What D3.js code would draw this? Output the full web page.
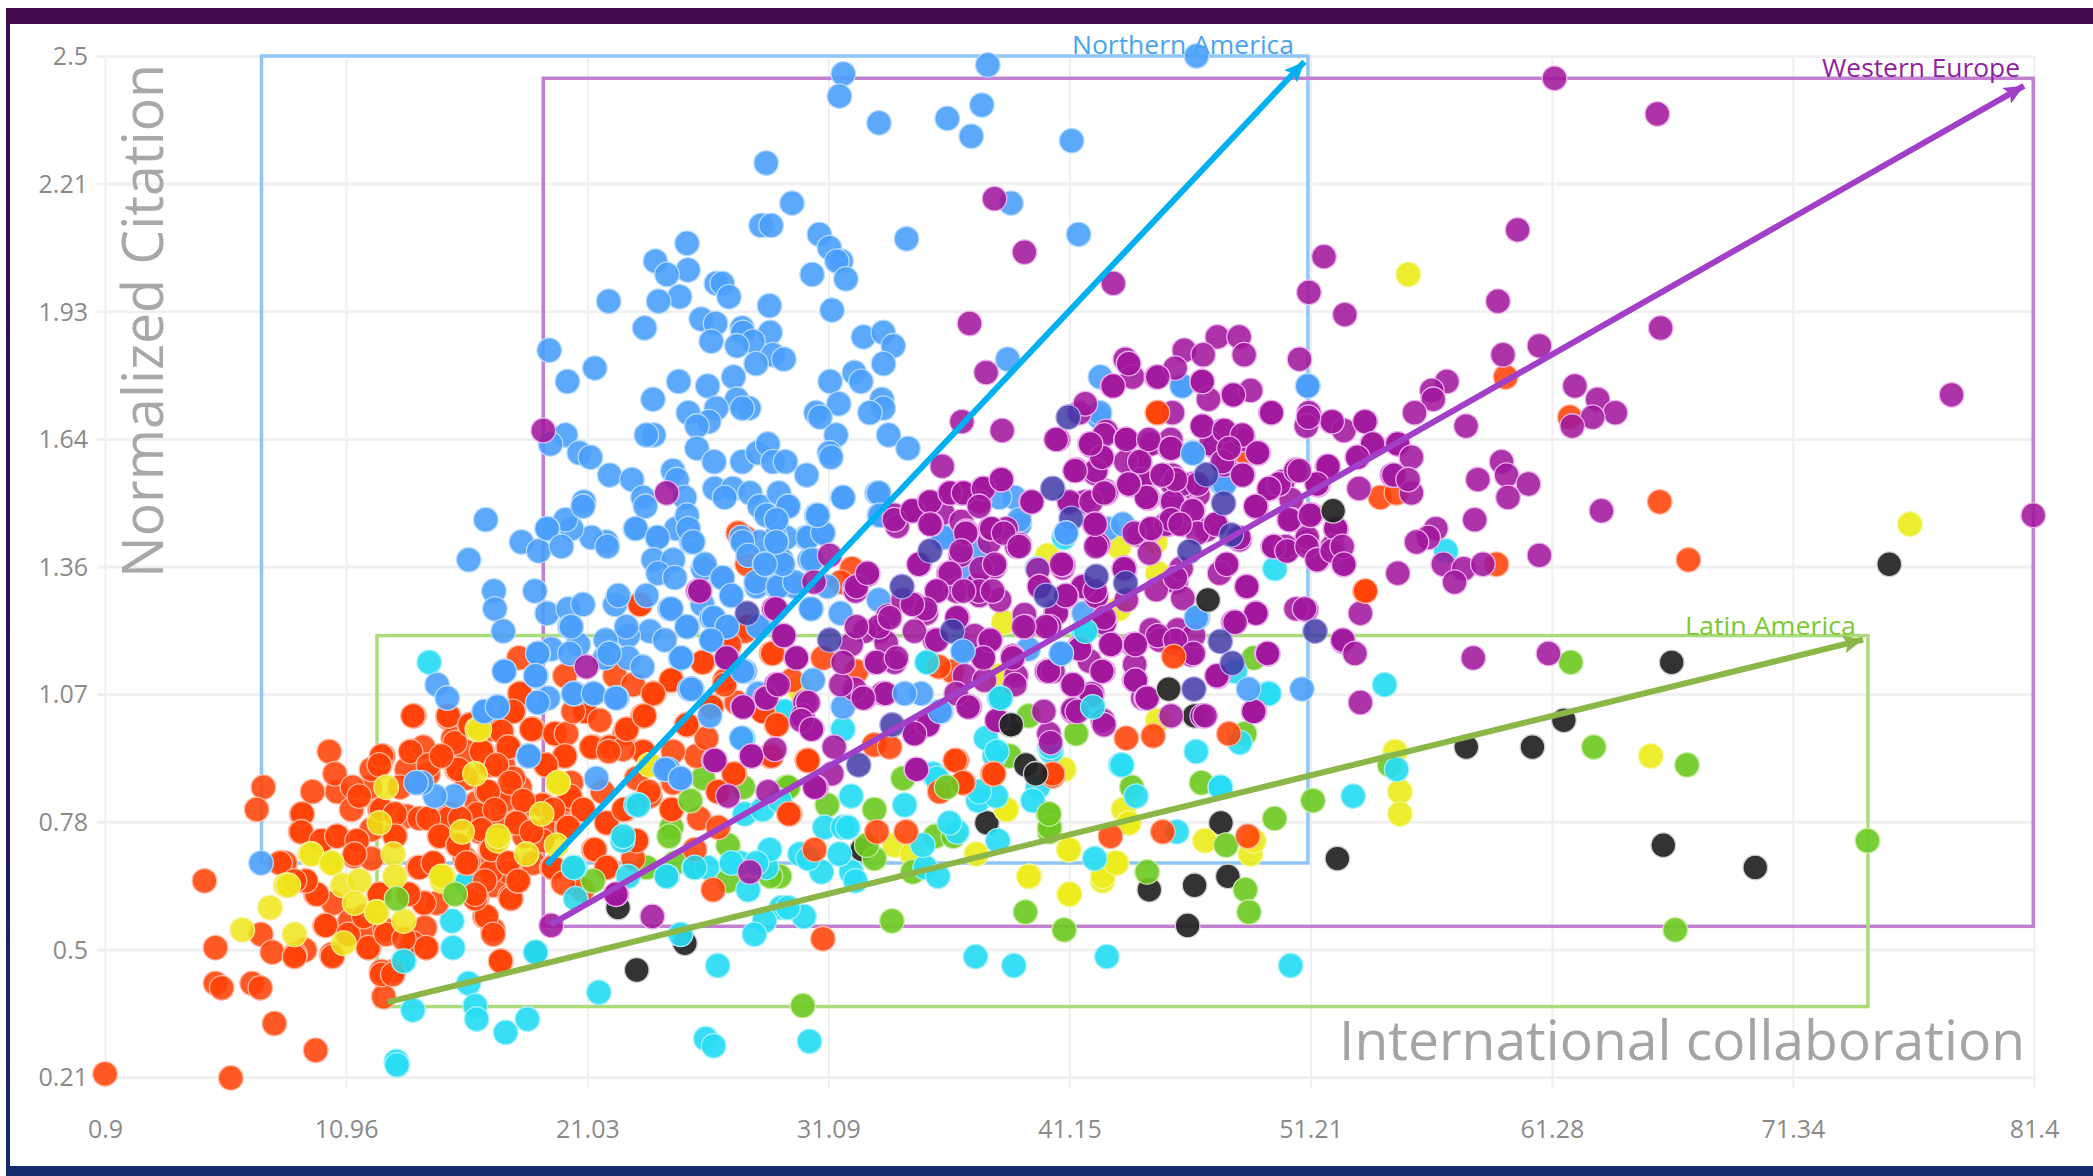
<!DOCTYPE html>
<html><head><meta charset="utf-8">
<script src="https://cdn.jsdelivr.net/npm/d3@7/dist/d3.min.js"></script>
<style>html,body{margin:0;padding:0;background:#fff;overflow:hidden}svg{display:block}text{font-family:"Open Sans",sans-serif}</style>
</head><body><svg id="c" width="2093" height="1176"></svg>
<script>
const xTicks=[0.9,10.96,21.03,31.09,41.15,51.21,61.28,71.34,81.4];
const yTicks=[0.21,0.496,0.7825,1.069,1.355,1.641,1.9275,2.214,2.5];
const yLabels=["0.21","0.5","0.78","1.07","1.36","1.64","1.93","2.21","2.5"];
const black=[[66.28,1.14],[61.78,1.01],[57.71,.95],[60.47,.95],[65.93,.73],[69.77,.68],[52.33,.70],[47.47,.78],[47.76,.66],[46.37,.64],[44.48,.63],[46.08,.55],[46.37,1.02],[38.67,1.0],[75.36,1.36],[37.7,.78],[32.49,.72],[22.31,.59],[23.09,.45],[25.1,.51]];
const yellow=[[65.41,.93],[54.94,.85],[54.94,.80],[54.74,.94],[46.8,.74],[48.7,.71],[48.84,.74],[41.14,.72],[43.11,.69],[42.53,.65],[39.48,.66],[41.14,.62],[43.4,.81],[43.61,.78],[38.52,.81],[55.29,2.01],[76.22,1.45],[38.51,.81],[37.26,.71],[39.45,.66],[41.15,.62],[41.12,.72],[42.54,.66],[43.1,.69],[43.63,.78],[33.85,.73],[34.57,.71],[43.21,1.40],[44.83,1.34],[44.73,1.41],[43.21,1.26],[40.23,1.38],[38.4,1.23],[38.22,1.11],[44.83,1.01],[40.92,.90],[29.84,1.08],[29.9,1.08]];
const green=[[62.07,1.14],[63.03,.95],[66.92,.91],[74.45,.74],[66.43,.54],[51.31,.83],[49.71,.79],[48.49,.63],[48.64,.58],[44.39,.67],[40.93,.54],[39.31,.58],[47.68,.73],[46.66,.87],[48.46,.98],[43.75,.86],[40.26,.80],[40.32,.76],[41.43,.98],[48.84,1.15],[54.51,.91],[30.02,.37],[33.74,.56],[33.01,.81],[31.04,.82],[34.2,.88],[36,.86],[35.55,.75],[33.01,.70],[32.69,.73],[34.61,.67],[29.33,.86],[38.65,.93],[40.32,.77],[29.05,.66],[24.54,.77],[24.44,.75],[26.9,.73],[24.68,.69],[26.9,.65],[28.67,.66],[29.41,.86],[23.5,.68],[25.86,.88],[27.53,.86],[36.3,.75]];
const cyan=[[43.28,.91],[43.93,.84],[47.44,.86],[45.63,.76],[42.2,.70],[42.71,.48],[38.83,.46],[37.23,.48],[30.3,.29],[30.07,.57],[29.12,.59],[35.13,.68],[35.66,.66],[32.04,.67],[32.22,.65],[31.55,.71],[30.27,.70],[30.93,.77],[31.69,.77],[32.04,.84],[34.27,.82],[35.45,.89],[37.33,.83],[38.09,.84],[36.46,.76],[36.14,.78],[38.16,.74],[35.03,.73],[38.02,.93],[39.83,.86],[39.62,.83],[40.38,.94],[46.44,.94],[52.99,.84],[54.3,1.09],[54.8,.90],[50.38,.46],[49.42,1.07],[48.26,.96],[42.15,1.04],[40.32,.95],[47.45,.86],[41.72,1.21],[48.06,1.12],[56.86,1.39],[49.72,1.35],[49.48,1.07],[35.24,1.14],[42.13,1.04],[40.36,.95],[38.22,1.06],[31.7,.99],[37.66,.97],[41.75,1.21],[39.8,1.35],[40.92,1.42],[43.34,.91],[38.12,.94],[37.38,.85],[35.61,.88],[29.19,1.03],[14.43,1.14],[15.38,.56],[15.42,.50],[18.87,.49],[16.07,.42],[13.75,.36],[16.35,.37],[16.41,.34],[17.62,.31],[18.53,.34],[21.51,.40],[13.06,.245],[13.09,.237],[13.37,.47],[16,.645],[24.92,.53],[24.36,.66],[25.48,.68],[25.97,.296],[26.3,.28],[26.47,.46],[28.42,.56],[28,.53],[29.4,.59],[31.9,.77],[30.8,.67],[29.9,.71],[26.03,.68],[28.5,.68],[27.4,.69],[27.6,.80],[28.34,.81],[29.06,.83],[30.24,.70],[28.64,.72],[28.09,.69],[27.04,.69],[27.74,.63],[27.53,.97],[29.27,1.03],[15.99,.645]];
const orange=[[.9,.217],[6.15,.208],[9.69,.27],[7.97,.33],[5.51,.42],[5.77,.41],[7.04,.42],[7.38,.41],[5.51,.50],[5.05,.65],[7.51,.86],[7.23,.81],[8.2,.69],[10.26,.94],[10.49,.89],[9.56,.85],[9.13,.80],[9.09,.76],[7.41,.53],[7.88,.49],[8.81,.48],[10.39,.48],[11.88,.50],[12.53,.39],[12.44,.44],[12.91,.44],[13.75,.51],[14.3,.50],[17.41,.47],[16.82,.57],[17.1,.53],[17.84,.61],[18.12,.65],[16.35,.61],[14.21,.60],[12.35,.62],[13.56,.62],[9.74,.62],[9.28,.65],[10.11,.55],[11.05,.53],[11.7,.57],[12.63,.53],[13.37,.52],[13.75,1.02],[15.24,1.02],[16.11,1.0],
[12.44,.93],[13.65,.94],[14.96,.93],[15.51,.96],[16.63,.94],[17.75,.95],[17.38,.99],[18.77,.99],[19.7,.98],[18.21,1.07],[17.94,1.03],[20.91,1.03],[23.34,1.02],[24.55,1.10],[23.8,1.07],[25.2,1.0],[22.59,.98],[21.29,.95],[21.94,.95],[23.34,.94],[20.08,.93],[19.33,.91],[11.23,.86],[12.35,.91],[14.4,.91],[15.61,.90],[17,.91],[17.94,.88],[15.98,.88],[11.51,.84],[20.36,.87],[12.44,.81],[13,.80],[14.02,.79],[15.24,.79],[16.44,.80],[16.82,.85],[17.56,.83],[18.12,.78],[19.15,.82],[20.36,.83],[20.82,.81],[21.66,.85],[22.59,.81],[21.85,.78],[24.55,.81],[9.93,.74],[10.58,.75],[11.42,.74],[13,.75],[14.86,.75],[15.61,.73],[17,.72],[18.4,.75],[19.15,.74],[20.17,.77],[21.29,.72],[23.06,.74],[16.07,.69],[14.58,.69],[14.02,.68],[11.32,.71],[17.75,.67],[19.61,.68],[21.85,.68],[20.82,.63],[8.81,.65],[17,.67],
[18.17,1.15],[18.21,1.07],[17.93,1.03],[15.22,1.02],[16.13,1.0],[17.45,.985],[18.7,.99],[19.67,.98],[20.16,.98],[21.2,.95],[21.97,.95],[22.66,.99],[23.36,1.02],[20.92,1.03],[20.44,1.03],[21.55,1.01],[23.78,1.07],[24.54,1.10],[23.22,1.27],[25.86,1.14],[20.09,1.11],[22.18,1.11],[22.94,1.09],[26.21,1.04],[25.17,1.0],[28.71,1.16],[26.77,1.10],[27.25,1.05],[28.37,1.03],[28.92,1.0],[26.9,1.17],[27.74,1.22],[27.6,1.42],[30.2,.92],[29.48,.80],[28.64,.93],[25.58,.93],[27.18,.89],[26.49,.85],[23.36,.94],[22.52,.945],[20.09,.93],[19.3,.91],[17.73,.95],[16.61,.94],[15.64,.90],[14.94,.93],[17.24,.91],[17.8,.87],[16.89,.85],[18.35,.83],[20.3,.84],[20.85,.81],[19.6,.81],[17.17,.81],[15.71,.79],[14.39,.79],[18.07,.78],[16.61,.765],[18.7,.76],[20.23,.77],[14.87,.75],[15.64,.73],[17.03,.72],[15.99,.69],[14.6,.69],[17.73,.69],[19.6,.68],[18.14,.65],[16.75,.65],[16.34,.62],[21.83,.78],[22.55,.81],[21.34,.72],[21.83,.68],[22.94,.70],[23.08,.74],[24.54,.81],[25.69,.79],[26.49,.77],[25.51,.72],[23.64,.84],[23.08,.88],[24.61,.87],[26.28,.63],[20.02,.645],[24.61,.94],[26,.97],
[59.35,1.78],[62.03,1.69],[65.78,1.50],[66.98,1.37],[53.48,1.30],[54.12,1.51],[54.79,1.52],[58.97,1.36],[44.82,1.70],[48.5,1.61],[32.07,1.35],[31.61,1.32],[27.7,1.36],[27.32,1.43],[23.23,1.27],[27.6,1.21],[26.95,1.18],[25.83,1.14],[24.53,1.10],[23.78,1.07],[28.76,1.16],[30.86,1.15],[28.35,1.03],[28.94,1.0],[26.76,1.09],[26.2,1.04],[25.18,1.0],[30.21,.92],[28.72,.93],[27.14,.89],[26.48,.85],[23.6,.85],[22.67,.99],[21.92,.94],[23.41,1.02],[32.26,1.12],[36.26,1.12],[35.7,1.13],[33,.955],[33.65,.95],[36.45,.92],[36.73,.87],[37.94,.89],[43.52,.97],[44.64,.975],[47.8,.98],[40.45,.885],[29.56,1.10],[30.23,.92],[29.44,.80],[37.99,.89],[36.38,.92],[36.7,.87],[40.45,.89],[33.11,.76],[34.33,.76],[30.51,.72],[30.86,.52],[42.86,.75],[45.04,.76],[48.59,.75],[35.73,.85]];
const orangeDense=[[13.8,1.02],[10.59,.85],[11.5,.84],[11.19,.81],[11.96,.86],[12.37,.91],[12.51,.93],[12.02,.90],[13.69,.94],[13.49,.90],[13.21,.86],[14.18,.95],[14.39,.89],[14.97,.93],[15.57,.90],[15.99,.94],[16.64,.94],[16.89,.91],[17.52,.91],[17.73,.95],[16.96,.99],[16.13,1.0],[15.22,1.015],[15.43,.97],[17.94,1.03],[18.73,.99],[19.67,.98],[20.09,.93],[19.28,.91],[16.82,.85],[16.41,.825],[17.1,.81],[16.54,.80],[17.87,.85],[18.21,.86],[19.19,.82],[18.42,.82],[20.23,.83],[19.88,.79],[19.4,.765],[18.07,.78],[17.45,.77],[15.71,.79],[15.29,.80],[14.39,.79],[13.03,.80],[12.37,.81],[13.49,.795],[14.88,.755],[16.54,.76],[16.99,.72],[18.63,.76],[15.61,.73],[14.6,.69],[15.92,.70],[16.82,.68],[17.66,.69],[18.77,.69],[19.54,.68],[18.14,.65],[17.1,.64],[17.8,.615],[13,.755],[12.02,.765],[11.4,.74],[10.59,.75],[9.94,.74],[11.29,.705],[12.02,.70],[13.97,.68],[12.34,.62],[13.6,.62],[14.25,.60],[14.74,.60],[9.7,.62],[9.28,.65],[10.43,.60],[10.08,.55],[11.12,.56],[11.68,.54],[12.58,.54],[11.91,.50],[13.72,.51],[14.32,.50],[14.25,.545],[9.24,.495],[8.83,.485],[10.36,.485],[12.93,.447],[12.44,.447],[16.41,.61],[16.75,.57],[17.1,.54],[17.42,.47],[9.1,.80],[9.06,.76],[8.41,.69]];
const yellowFront=[[6.63,.54],[7.79,.59],[8.44,.64],[8.81,.53],[10.86,.51],[9.46,.71],[10.34,.69],[10.82,.64],[11.51,.65],[11.32,.60],[12.26,.58],[13.37,.56],[12.93,.71],[13,.66],[14.96,.65],[15.01,.66],[15.8,.76],[16.44,.99],[17.28,.74],[18.49,.71],[19.12,.80],[19.8,.87],[19.81,.87],[19.74,.73],[23.61,.91],[16.34,.89],[12.63,.86],[12.35,.78],[16.52,.99],[17.31,.75],[14.94,.66],[23.64,.91],[8.55,.64],[9.52,.71],[10.36,.69],[12.23,.58]];
const greenFront=[[25.33,.83],[15.51,.62],[21.27,.65],[13.07,.61],[36.02,.86],[40.3,.80],[39.45,1.02]];
const cyanFront=[[20.51,.68],[22.73,.66],[20.45,.68],[20.54,.61],[22.5,.74],[23.06,.82],[23.15,.82],[22.52,.75],[25.51,.68],[24.33,.66],[18.87,.49],[13.37,.47]];
const blue=[[31.71,2.46],[31.55,2.41],[33.2,2.35],[37.74,2.48],[37.49,2.39],[36.05,2.36],[37.05,2.32],[28.49,2.26],[29.57,2.17],[28.28,2.12],[28.7,2.12],[30.71,2.10],[31.13,2.07],[31.62,2.04],[31.44,2.04],[30.41,2.01],[31.82,2.0],[34.35,2.09],[25.19,2.08],[23.87,2.04],[25.23,2.02],[24.35,2.01],[26.41,1.99],[26.66,1.99],[26.94,1.96],[24.88,1.96],[24,1.95],[21.92,1.95],[28.63,1.94],[31.24,1.93],[23.42,1.89],[25.78,1.91],[26.38,1.90],[26.2,1.86],[27.49,1.89],[27.52,1.88],[28.66,1.88],[27.94,1.86],[27.27,1.85],[19.44,1.84],[28.77,1.83],[29.23,1.82],[28.07,1.81],[32.55,1.87],[33.38,1.88],[33.8,1.85],[33.39,1.81],[32.17,1.79],[32.45,1.77],[31.16,1.77],[21.34,1.80],[20.2,1.77],[24.84,1.77],[27.13,1.78],[26.05,1.76],[27.27,1.73],[27.77,1.71],[27.49,1.71],[26.41,1.71],[25.24,1.70],[23.77,1.73],[26.1,1.68],[25.6,1.67],[31.52,1.72],[30.57,1.70],[30.74,1.69],[33.32,1.73],[33.38,1.71],[32.82,1.70],[31.41,1.65],[23.8,1.65],[23.49,1.65],[33.6,1.65],[34.41,1.62],[31.13,1.61],[31.2,1.60],[20.12,1.65],[19.49,1.63],[20.69,1.61],[21.16,1.60],[21.96,1.56],[22.89,1.55],[25.6,1.62],[26.32,1.59],[27.49,1.59],[28.14,1.61],[28.56,1.63],[28.77,1.59],[29.3,1.59],[30.18,1.56],[24.6,1.57],[24.77,1.55],[25.09,1.51],[23.35,1.51],[23.45,1.49],[20.88,1.50],[26.34,1.53],[27.1,1.53],[26.76,1.51],[27.82,1.52],[28.21,1.49],[29.02,1.52],[29.42,1.49],[28.91,1.46],[30.64,1.47],[31.69,1.51],[33.12,1.52],[33.21,1.47],[30.88,1.43],[30.16,1.42],[29.32,1.42],[28.88,1.42],[28.21,1.41],[27.45,1.42],[25.23,1.44],[24.74,1.44],[25.37,1.41],[25.19,1.47],[23.94,1.42],[23.03,1.44],[21.82,1.41],[21.2,1.42],[20.37,1.44],[20.12,1.46],[19.37,1.44],[18.28,1.41],
[38.71,2.17],[41.24,2.31],[41.53,2.10],[46.45,2.50],[38.57,1.82],[42.44,1.78],[45.84,1.76],[51.09,1.76],[42.39,1.69],[46.28,1.61],[47.53,1.54],[38.85,1.51],[38.23,1.51],[39.06,1.45],[41,1.43],[42.74,1.44],[43.37,1.45],[35.87,1.42],
[16.79,1.46],[19,1.39],[19.35,1.44],[19.95,1.40],[20.85,1.49],[21.86,1.40],[23.05,1.44],[23.96,1.42],[23.78,1.37],[24.61,1.37],[25.24,1.44],[25.44,1.41],[16.08,1.37],[17.13,1.30],[17.17,1.26],[17.52,1.21],[18.84,1.30],[19.35,1.25],[20.23,1.26],[20.85,1.27],[20.3,1.22],[20.65,1.18],[19.53,1.17],[20.3,1.16],[18.98,1.16],[17.56,1.12],[18.88,1.11],[14.76,1.09],[15.18,1.06],[16.75,1.03],[17.27,1.04],[18.98,1.05],[19.39,1.06],[20.51,1.07],[21.27,1.07],[22.27,1.06],[22.18,1.27],[22.32,1.29],[24.47,1.26],[23.5,1.29],[23.98,1.34],[24.68,1.33],[25.86,1.35],[26.63,1.33],[27.04,1.29],[25.83,1.27],[26.21,1.24],[26.84,1.22],[25.21,1.22],[23.64,1.21],[24.26,1.19],[22.73,1.20],[22.66,1.22],[21.79,1.19],[21.93,1.16],[21.76,1.15],[22.73,1.15],[23.33,1.13],[24.96,1.15],[26.21,1.19],[27.5,1.41],[27.74,1.38],[28.43,1.36],[28.92,1.41],[29.13,1.37],[28.09,1.31],[28.92,1.31],[29.69,1.31],[28.23,1.22],[30.31,1.37],[30.38,1.26],[28.5,1.47],[29.41,1.49],[28.92,1.46],[30.24,1.42],[30.59,1.47],[27.6,1.12],[28.16,1.07],[30.45,1.10],[25.4,1.08],[21.41,.88],[18.56,.93],[15.47,.84],[14.67,.84],[14.11,.87],[24.4,.90],[24.89,.88],[26.14,1.02],[27.46,.97],
[7.41,.69],[13.88,.87],[18.59,.93],[17.56,1.12],[18.96,1.16],[18.87,1.11],[18.96,1.05],[20.36,1.22],[20.45,1.07],[21.29,1.07],[22.22,1.06],[21.94,1.16],[16.72,1.03],[17.28,1.04],[24.92,1.15],[25.29,1.08],[24.27,.90],[24.92,.88],
[25.93,1.36],[26.67,1.33],[27.04,1.29],[28.07,1.32],[29,1.31],[29.69,1.32],[31.05,1.31],[30.36,1.26],[31.6,1.25],[33.19,1.28],[30.4,1.37],[29.19,1.36],[28.44,1.36],[28.91,1.41],[30.86,1.43],[24.53,1.26],[25.18,1.22],[26.3,1.24],[26.86,1.22],[26.2,1.19],[24.94,1.15],[27.51,1.12],[28.16,1.22],[25.37,1.08],[31.7,1.04],[35.8,1.03],[36.73,1.17],[39.43,1.17],[41.75,1.25],[46.5,1.24],[42.41,1.70],[45.85,1.76],[47.62,1.54],[37.38,1.39],[35.89,1.42],[37,1.34],[39.05,1.46],[33.19,1.52],[31.7,1.51],[30.64,1.47],[33.24,1.47]];
const purple=[[38.02,2.18],[39.27,2.06],[42.98,1.99],[36.98,1.90],[37.67,1.79],[51.77,2.05],[51.14,1.97],[52.64,1.92],[50.75,1.82],[47.32,1.87],[48.23,1.87],[48.44,1.83],[45.94,1.84],[46.73,1.83],[43.48,1.82],[43.62,1.81],[43.78,1.78],[44.78,1.78],[45.56,1.80],[42.95,1.76],[46.67,1.77],[47.95,1.74],[48.71,1.75],[46.95,1.73],[45.45,1.70],[49.55,1.70],[51.14,1.70],[51.03,1.67],[52.09,1.68],[52.6,1.66],[53.5,1.68],[46.7,1.67],[47.53,1.66],[48.37,1.64],[49.03,1.61],[47.78,1.62],[47.05,1.63],[47.53,1.59],[36.66,1.68],[38.34,1.66],[35.84,1.58],[40.59,1.64],[41.56,1.70],[41.81,1.72],[42.6,1.65],[43.5,1.64],[44.55,1.63],[45.38,1.64],[45.34,1.62],[42,1.63],[42.49,1.60],[41.42,1.57],[42.25,1.57],[44,1.59],[43.5,1.59],[38.3,1.55],[37.53,1.53],[36.7,1.52],[36.14,1.52],[35.31,1.50],[34.62,1.48],[37.39,1.50],[39.55,1.50],[41.14,1.50],[42.67,1.52],[42.05,1.50],[42.19,1.45],[44.13,1.55],[43.64,1.54],[45.03,1.56],[45.45,1.54],[46.28,1.54],[45.87,1.54],[44.41,1.51],[45.45,1.50],[46.28,1.48],[47.25,1.45],[48.37,1.56],[49.48,1.53],[49.89,1.54],[50.59,1.57],[51.91,1.58],[51.49,1.54],[53.16,1.60],[53.78,1.63],[54.82,1.63],[53.23,1.53],[54.62,1.56],[48.92,1.49],[50.38,1.46],[51.17,1.47],[52.25,1.44],[49.64,1.40],[50.17,1.40],[51.07,1.42],[52.12,1.40],[35.38,1.45],[36.84,1.43],[37.84,1.44],[38.95,1.40],[44.55,1.44],[45.17,1.45],[43.85,1.43],[46.49,1.43],[48.22,1.42],[42.25,1.40],
[24.34,1.52],[25.65,1.30],[28.81,1.26],[31.14,1.38],[30.49,1.32],[32.26,1.31],[32.72,1.34],[29.22,1.20],[29.74,1.15],[26.86,1.15],[28.44,1.06],[28.91,1.09],[27.51,1.04],[27.88,.93],[26.3,.92],[33.84,1.46],[34.59,1.48],[35.33,1.50],[35.33,1.45],[36.17,1.52],[36.73,1.52],[37.56,1.53],[38.31,1.55],[37.38,1.49],[36.82,1.43],[37.9,1.44],[38.4,1.43],[39.05,1.40],[39.58,1.50],[34.86,1.36],[36.63,1.39],[36.17,1.34],[38.03,1.36],[37.38,1.30],[35.61,1.30],[36.73,1.30],[37.94,1.30],[39.89,1.31],[35.14,1.26],[34.59,1.27],[36.45,1.24],[35.61,1.19],[37.84,1.19],[38.78,1.15],[40.17,1.22],[39.24,1.22],[41,1.29],[40.82,1.36],[42.22,1.45],[41.38,1.57],[42.5,1.60],[42.03,1.63],[42.97,1.76],[43.62,1.81],[44.83,1.78],[46.69,1.77],[47.99,1.74],[49.58,1.70],[46.69,1.67],[47.62,1.66],[48.36,1.65],[49,1.61],[47.81,1.62],[46.5,1.54],[45.57,1.55],[45.01,1.56],[44.08,1.59],[43.52,1.64],[44.46,1.64],[45.39,1.62],[42.59,1.52],[44.36,1.51],[43.62,1.54],[45.39,1.46],[44.55,1.44],[45.76,1.45],[47.25,1.45],[48.37,1.56],[49.48,1.53],[48.92,1.49],[50.32,1.46],[49.67,1.40],[47.71,1.36],[48.55,1.31],[45.57,1.33],[43.43,1.35],[42.22,1.30],[43.52,1.28],[42.59,1.24],[47.99,1.23],[48.92,1.25],[44.83,1.20],[45.57,1.19],[46.32,1.16],[47.34,1.11],[49.39,1.16],[43.9,1.18],[42.87,1.18],[41.57,1.17],[40.27,1.12],[41.29,1.09],[42.5,1.12],[43.9,1.10],[44.36,1.06],[42.59,1.00],[41.48,1.03],[45.39,1.02],[46.69,1.02],[48.83,1.03],[38.87,1.09],[37.56,1.15],[36.92,1.04],[35.24,1.00],[34.68,.98],[33.47,1.07],[32.54,1.06],[31.61,1.09],[31.7,1.14],[33.1,1.14],[33.93,1.15],[30.4,.99],[30.11,1.05],[30.02,1.02],[31.33,.95],[33.19,1.22],[32.26,1.22],[33.65,1.24],[34.77,.90],[31.23,.89],[30.58,.86],[40.36,.96],[40.08,1.03],[38.12,1.01],[50.6,1.26],[50.23,1.39],
[61.39,2.45],[65.68,2.37],[59.85,2.11],[59.03,1.95],[65.82,1.89],[60.76,1.85],[59.24,1.83],[77.96,1.74],[81.37,1.47],[62.24,1.76],[63.19,1.73],[63.93,1.70],[62.98,1.69],[62.13,1.67],[56.9,1.77],[56.27,1.75],[56.33,1.73],[55.55,1.70],[57.7,1.67],[53.48,1.68],[52.11,1.68],[51.12,1.69],[53.8,1.63],[54.85,1.63],[55.42,1.60],[53.17,1.60],[51.94,1.58],[51.48,1.54],[54.69,1.56],[55.42,1.52],[55.28,1.55],[50.74,1.57],[59.18,1.59],[59.39,1.56],[60.3,1.54],[58.19,1.55],[59.45,1.51],[63.35,1.48],[58.06,1.46],[52.26,1.44],[51.2,1.47],[56.44,1.44],[56.12,1.42],[55.63,1.41],[60.76,1.38],[56.75,1.36],[57.6,1.35],[58.4,1.36],[57.22,1.32],[54.85,1.34],[51.06,1.40],[51.48,1.37],[52.11,1.39],[52.53,1.40],[52.6,1.36],
[53.29,1.25],[50.96,1.26],[48.93,1.25],[48.06,1.23],[52.56,1.19],[53.06,1.16],[49.42,1.16],[58,1.15],[61.14,1.16],[53.29,1.05],[48.84,1.03],[47.3,1.11],[46.81,1.02],[44.39,1.06],
[28.5,1.06],[28.99,1.09],[29.23,1.2],[29.76,1.15],[28.89,1.26],[26.84,1.15],[25.72,1.30],[20.99,1.13],[27.53,1.04],[30.24,1.05],[29.96,1.01],[30.38,.99],[27.88,.93],[28.85,.945],[26.35,.92],[26.9,.84],[28.57,.85],[27.81,.67],[30.52,.86],[22.25,.62],[22.22,.62],[23.74,.57],[19.52,.55],[19.19,1.66]];
const purpleDense=[[33.85,1.47],[33.96,1.445],[34.61,1.48],[35.31,1.50],[35.38,1.45],[35.86,1.475],[36.14,1.52],[36.63,1.52],[37.53,1.53],[37.39,1.50],[36.63,1.456],[36.84,1.434],[37.88,1.44],[37.81,1.41],[38.51,1.44],[39.06,1.404],[39.55,1.50],[36.6,1.38],[34.89,1.36],[36.11,1.34],[35.61,1.30],[36.42,1.30],[37.39,1.29],[37.32,1.315],[38.02,1.354],[37.46,1.35],[38.23,1.28],[32.73,1.337],[32.18,1.307],[34.68,1.27],[35.17,1.25],[33.57,1.244],[34.2,1.28],[36.49,1.24],[35.52,1.19],[34.68,1.21],[33.22,1.21],[32.6,1.21],[33.5,1.184],[32.04,1.18],[33.06,1.14],[33.85,1.14],[37.19,1.2],[37.81,1.187],[37.53,1.15],[38.78,1.154],[36.77,1.11],[39.27,1.247],[39.34,1.22],[40.18,1.22],[40.59,1.255],[40.87,1.352],[41.01,1.29],[39.9,1.31],[39.83,1.348],[41.71,1.31],[42.26,1.29],[41.77,1.50],[42.19,1.453],[42.68,1.524],[42.33,1.404],[43.44,1.352],[42.61,1.232],[41.57,1.176],[42.89,1.18],[43.79,1.18],[41.98,1.143],[42.54,1.12],[40.2,1.12],[41.29,1.09],[38.92,1.11],[37.6,1.10],[43.86,1.10],[44.21,1.06],[42.1,1.07],[41.29,1.03],[42.54,1.01],[36.98,1.04],[36.42,1.07],[35.24,1.0],[34.68,.98],[38.16,1.01],[40.29,.98],[32.22,1.30],[33.36,1.07],[32.6,1.06],[32.18,1.08],[34.75,.90],
[40.67,1.64],[42.68,1.658],[43.52,1.64],[42.06,1.626],[42.52,1.60],[41.43,1.572],[42.2,1.564],[44.08,1.588],[44.49,1.632],[45.35,1.62],[43.66,1.538],[44.21,1.55],[42.68,1.52],[44.42,1.508],[45.44,1.56],[45.81,1.538],[46.3,1.538],[46.51,1.516],[45.4,1.50],[46.3,1.482],[47.83,1.62],[47.2,1.624],[48.39,1.647],[49.01,1.609],[47.62,1.583],[48.39,1.561],[48.94,1.488],[49.5,1.53],[50.06,1.546],[50.61,1.572],[51.93,1.579],[51.52,1.538],[50.4,1.505],[50.36,1.46],[51.24,1.471],[49.71,1.40],[50.22,1.39],[51.03,1.411],[51.52,1.37],[52.14,1.393],[52.59,1.359],[52.28,1.437],[42.2,1.449],[41.15,1.497],[40.88,1.359],[42.34,1.404],[44.01,1.426],[44.56,1.437],[45.26,1.449],[45.88,1.449],[47.27,1.449],[46.86,1.437],[48.25,1.415],[44.49,1.385],[43.45,1.348],[42.27,1.288],[41.71,1.31],[41.02,1.288],[40.6,1.25],[40.32,1.22],[42.61,1.228],[45.6,1.32],[44.77,1.303],[45.88,1.284],[45.81,1.351],[47.69,1.359],[48.53,1.31],[47.41,1.34],[48.04,1.23],[48.94,1.25],[51.03,1.258],[52.56,1.187],[44.56,1.213],[44.91,1.19],[45.58,1.183],[45.67,1.213],[46.23,1.157],[46.33,1.2],[42.92,1.18],[43.87,1.18],[41.57,1.172],[42.55,1.12],[43.87,1.135],[43.91,1.10],[40.46,1.12],[41.27,1.09],[44.35,1.06],[42.06,1.064],[47.34,1.108],[49.43,1.159],[48.87,1.03],[41.29,1.034]];
const indigo=[[51.4,1.21],[47.44,1.187],[47.94,1.138],[46.34,1.08],[40.45,1.53],[35.33,1.39],[34.16,1.31],[31.14,1.19],[41.22,1.463],[42.27,1.333],[43.49,1.318],[46.86,1.561],[47.58,1.497],[46.16,1.389],[47.9,1.426],[32.35,.91],[33.75,1.0],[36.26,1.21],[41.1,1.69],[40.17,1.29],[27.7,1.25]];
const blueFront=[[41.01,1.43],[36.7,1.165],[34.96,1.07],[34.27,1.07],[35.75,1.03],[40.8,1.16],[46.3,1.609],[46.44,1.24],[48.62,1.08],[50.85,1.08],[40.81,1.16],[51.09,1.76]];
const cyanTop=[[35.2,1.14],[38.27,1.06],[42.12,1.04],[41.82,1.21]];
const blackTop=[[38.72,1.0],[39.33,.91],[39.74,.89],[46.93,1.28],[52.15,1.48],[45.29,1.08]];
const orangeTop=[[45.5,1.153],[44.82,1.70],[53.5,1.30]];
const boxes=[
 {name:"Northern America",x0:7.43,x1:51.1,y0:.69,y1:2.5,stroke:"#8fc6f6"},
 {name:"Western Europe",x0:19.19,x1:81.37,y0:.548,y1:2.45,stroke:"#c07fcf"},
 {name:"Latin America",x0:12.25,x1:74.47,y0:.368,y1:1.2,stroke:"#aadc7c"}];
const arrows=[
 {x0:19.34,y0:.686,x1:50.95,y1:2.487,color:"#00b0f0"},
 {x0:19.5,y0:.552,x1:80.98,y1:2.433,color:"#a23fc8"},
 {x0:12.7,y0:.378,x1:74.27,y1:1.191,color:"#8cb648"}];

const x=d3.scaleLinear().domain([0.9,81.4]).range([105,2034]);
const y=d3.scaleLinear().domain([0.21,2.5]).range([1077,56]);
const svg=d3.select("#c");
const defs=svg.append("defs");
const grad=defs.append("linearGradient").attr("id","side").attr("x1",0).attr("x2",0).attr("y1",0).attr("y2",1);
grad.append("stop").attr("offset",0).attr("stop-color","#42094f");
grad.append("stop").attr("offset",.5).attr("stop-color","#2a1064");
grad.append("stop").attr("offset",1).attr("stop-color","#12296a");
svg.append("rect").attr("width",2093).attr("height",1176).attr("fill","#fff");
svg.append("rect").attr("x",6).attr("y",8).attr("width",2087).attr("height",16).attr("fill","#42094f");
svg.append("rect").attr("x",6).attr("y",8).attr("width",4).attr("height",1168).attr("fill","url(#side)");
svg.append("rect").attr("x",6).attr("y",1166).attr("width",2087).attr("height",10).attr("fill","#12296a");

const gx=svg.append("g").attr("transform","translate(0,1077)")
 .call(d3.axisBottom(x).tickValues(xTicks).tickFormat(d=>d).tickSize(0));
gx.select(".domain").remove();
gx.selectAll("text").attr("y",52).attr("dy",".35em").attr("font-size",25).attr("fill","#8a8a8a").style("font-family",'"Open Sans",sans-serif');
gx.selectAll(".tick").append("line").attr("y1",12).attr("y2",-1021).attr("stroke","#efefef").attr("stroke-width",2);
const gy=svg.append("g").attr("transform","translate(105,0)")
 .call(d3.axisLeft(y).tickValues(yTicks).tickFormat((d,i)=>yLabels[i]).tickSize(0));
gy.select(".domain").remove();
gy.selectAll("text").attr("x",-17).attr("dy",".35em").attr("font-size",25).attr("fill","#8a8a8a").style("font-family",'"Open Sans",sans-serif');
gy.selectAll(".tick").append("line").attr("x1",-8).attr("x2",1929).attr("stroke","#f0f0f0").attr("stroke-width",3);

svg.append("text").attr("transform","translate(163,578) rotate(-90)").attr("font-size",56).attr("fill","#a8a8a8")
 .attr("textLength",514).attr("lengthAdjust","spacingAndGlyphs").text("Normalized Citation");
svg.append("text").attr("x",1339).attr("y",1060).attr("font-size",54).attr("fill","#a4a4a4")
 .attr("textLength",686).attr("lengthAdjust","spacingAndGlyphs").text("International collaboration");

svg.append("g").selectAll("rect").data(boxes).join("rect")
 .attr("x",d=>x(d.x0)).attr("y",d=>y(d.y1)).attr("width",d=>x(d.x1)-x(d.x0)).attr("height",d=>y(d.y0)-y(d.y1))
 .attr("fill","none").attr("stroke",d=>d.stroke).attr("stroke-width",3.5);

function dots(data,fill,stroke,op){
 svg.append("g").selectAll("circle").data(data).join("circle")
  .attr("cx",d=>x(d[0])).attr("cy",d=>y(d[1])).attr("r",12.3)
  .attr("fill",fill).attr("fill-opacity",op).attr("stroke",stroke).attr("stroke-width",1.3);
}
dots(black,"#232323","#cfcfcf",.93);
dots(yellow,"#ecec1e","#f6f68f",.92);
dots(green,"#6fca24","#c6eca0",.92);
dots(cyan,"#27dcf3","#a4f0fa",.92);
dots(orangeDense,"#ff4208","#ffb9a0",.88);
dots(orange,"#ff4208","#ffb9a0",.88);
dots(yellowFront,"#eee51a","#f8f090",.85);
dots(greenFront,"#6fca24","#c6eca0",.9);
dots(cyanFront,"#27d6ea","#a4f0fa",.88);
dots(blue,"#4a9ffb","#b6dbff",.9);
dots(purpleDense,"#a0189c","#eeb0f0",.88);
dots(purple,"#a0189c","#eeb0f0",.88);
dots(indigo,"#3f3aa6","#b0a8e8",.85);
dots(blueFront,"#4a9ffb","#b6dbff",.9);
dots(cyanTop,"#27d6ea","#a4f0fa",.88);
dots(blackTop,"#232323","#cfcfcf",.93);
dots(orangeTop,"#ff4208","#ffb9a0",.92);

arrows.forEach((a,i)=>{
 defs.append("marker").attr("id","m"+i).attr("markerUnits","userSpaceOnUse").attr("viewBox","0 0 20 18")
  .attr("refX",20).attr("refY",9).attr("markerWidth",20).attr("markerHeight",18).attr("orient","auto")
  .append("path").attr("d","M0,0L20,9L0,18L4,9Z").attr("fill",a.color);
});
svg.append("g").selectAll("line").data(arrows).join("line")
 .attr("x1",d=>x(d.x0)).attr("y1",d=>y(d.y0)).attr("x2",d=>x(d.x1)).attr("y2",d=>y(d.y1))
 .attr("stroke",d=>d.color).attr("stroke-width",6).attr("marker-end",(d,i)=>`url(#m${i})`);

const labels=[["Northern America",1072,222,54,"#4aa3f0"],["Western Europe",1822,198,77,"#8f1f9f"],["Latin America",1685,171,635,"#7cc832"]];
svg.append("g").selectAll("text").data(labels).join("text")
 .attr("x",d=>d[1]).attr("y",d=>d[3]).attr("font-size",25).attr("fill",d=>d[4])
 .attr("textLength",d=>d[2]).attr("lengthAdjust","spacingAndGlyphs").text(d=>d[0]);
</script></body></html>
